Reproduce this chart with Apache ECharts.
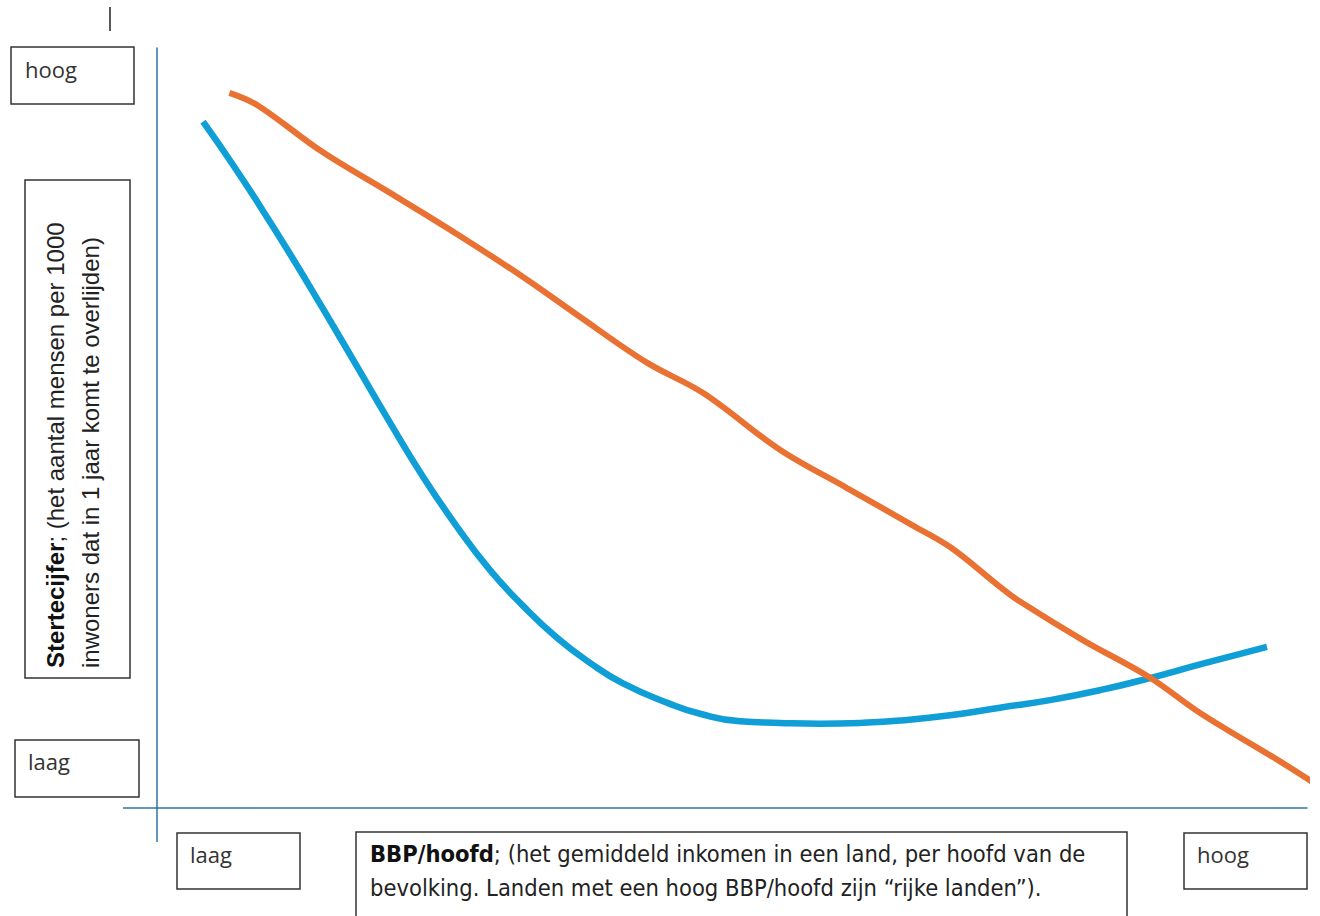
<!DOCTYPE html>
<html>
<head>
<meta charset="utf-8">
<script src="https://cdn.jsdelivr.net/npm/echarts@6/dist/echarts.min.js"></script>
<style>
html,body{margin:0;padding:0;background:#fff;}
#c{width:1320px;height:916px;}
</style>
</head>
<body>
<div id="c"></div>
<script>
// Schematic data (x: BBP/hoofd 0-100, y: sterftecijfer 0-100)
const blueX = [4.0, 6.35, 8.7, 11.57, 14.43, 17.39, 20.26, 23.13, 26.09, 28.96, 31.83, 34.78, 37.65, 40.52, 44.61, 47.22, 50.7, 54.17, 57.65, 61.13, 64.6, 68.96, 73.3, 77.65, 82.0, 86.35, 90.7, 96.52];
const blueY = [90.3, 85.2, 79.8, 72.9, 65.7, 58.1, 50.7, 43.6, 37.0, 31.3, 26.6, 22.4, 19.1, 16.4, 13.7, 12.4, 11.4, 11.2, 11.1, 11.2, 11.5, 12.2, 13.2, 14.2, 15.5, 17.1, 18.9, 21.2];
const orangeX = [6.3, 8.7, 14.4, 20.3, 26.1, 31.8, 36.8, 42.6, 47.5, 54.2, 60.0, 65.7, 69.0, 73.3, 74.8, 80.5, 86.3, 90.7, 97.9, 101.1];
const orangeY = [94.1, 92.5, 86.3, 80.9, 75.5, 69.9, 64.6, 58.6, 54.6, 47.1, 42.1, 37.2, 34.3, 29.1, 27.4, 22.1, 17.2, 12.5, 5.9, 2.8];

const yTitleBold = 'Stertecijfer';
const yTitleLine1 = '; (het aantal mensen per 1000';
const yTitleLine2 = 'inwoners dat in 1 jaar komt te overlijden)';
const xTitleBold = 'BBP/hoofd';
const xTitleLine1 = '; (het gemiddeld inkomen in een land, per hoofd van de';
const xTitleLine2 = 'bevolking. Landen met een hoog BBP/hoofd zijn \u201crijke landen\u201d).';
const lowLabel = 'laag';
const highLabel = 'hoog';

const pairs = (xs, ys) => xs.map((x, i) => [x, ys[i]]);
const axisColor = '#3474a0';
const boxStroke = '#333333';
const boxFont = '"Open Sans", sans-serif';
const yFont = '"Liberation Sans", Arial, sans-serif';
const xFont = '"Liberation Sans Narrow", "DejaVu Sans Condensed", sans-serif';

function box(x, y, w, h) {
  return {type:'rect', shape:{x:x, y:y, width:w, height:h}, style:{fill:'#ffffff', stroke:boxStroke, lineWidth:1.5}, z:10};
}
function label(x, y, text, size, family) {
  return {type:'text', x:x, y:y, z:11, style:{text:text, fontSize:size, fontFamily:family, fill:'#333333', textAlign:'left', textVerticalAlign:'middle', align:'left', verticalAlign:'middle'}};
}

const chart = echarts.init(document.getElementById('c'), null, {renderer:'svg'});
chart.setOption({
  animation:false,
  backgroundColor:'#ffffff',
  grid:{left:157, right:13, top:48, bottom:108, containLabel:false},
  xAxis:{type:'value', min:0, max:100, axisLine:{show:true, onZero:false, lineStyle:{color:axisColor, width:1.5}}, axisTick:{show:false}, axisLabel:{show:false}, splitLine:{show:false}},
  yAxis:{type:'value', min:0, max:100, axisLine:{show:true, onZero:false, lineStyle:{color:axisColor, width:1.5}}, axisTick:{show:false}, axisLabel:{show:false}, splitLine:{show:false}},
  series:[
    {name:'blauw', type:'line', data:pairs(blueX, blueY), smooth:0.5, showSymbol:false, clip:false, lineStyle:{color:'#0f9ed5', width:6.5, cap:'butt'}, z:3},
    {name:'oranje', type:'line', data:pairs(orangeX, orangeY), smooth:0.35, showSymbol:false, clip:false, lineStyle:{color:'#e97132', width:6, cap:'butt'}, z:4}
  ],
  graphic:[
    {type:'line', shape:{x1:123, y1:808, x2:157, y2:808}, style:{stroke:axisColor, lineWidth:1.5}},
    {type:'line', shape:{x1:157, y1:808, x2:157, y2:842}, style:{stroke:axisColor, lineWidth:1.5}},
    {type:'line', shape:{x1:110, y1:7, x2:110, y2:31}, style:{stroke:'#222', lineWidth:1.5}},
    box(11, 47, 123, 57), label(25, 69, highLabel, 22, boxFont),
    box(15, 740, 124, 57), label(28, 761, lowLabel, 22, boxFont),
    box(177, 833, 123, 56), label(190, 854, lowLabel, 22, boxFont),
    box(1184, 833, 123, 56), label(1197, 854, highLabel, 22, boxFont),
    box(25, 180, 105, 498),
    {type:'text', x:55, y:668, rotation:Math.PI/2, z:11, style:{text:'{b|' + yTitleBold + '}' + yTitleLine1, fontSize:24, fontFamily:yFont, fill:'#222', textAlign:'left', textVerticalAlign:'middle', align:'left', verticalAlign:'middle', rich:{b:{fontWeight:'bold', fontSize:24, fontFamily:yFont, fill:'#111'}}}},
    {type:'text', x:90, y:668, rotation:Math.PI/2, z:11, style:{text:yTitleLine2, fontSize:24, fontFamily:yFont, fill:'#222', textAlign:'left', textVerticalAlign:'middle', align:'left', verticalAlign:'middle'}},
    box(356, 832, 771, 92),
    {type:'text', x:370, y:854, z:11, style:{text:'{b|' + xTitleBold + '}' + xTitleLine1, fontSize:23.5, fontFamily:xFont, fill:'#222', textAlign:'left', textVerticalAlign:'middle', align:'left', verticalAlign:'middle', rich:{b:{fontWeight:'bold', fontSize:23.5, fontFamily:xFont, fill:'#111'}}}},
    {type:'text', x:370, y:888, z:11, style:{text:xTitleLine2, fontSize:23.5, fontFamily:xFont, fill:'#222', textAlign:'left', textVerticalAlign:'middle', align:'left', verticalAlign:'middle'}}
  ]
});
</script>
</body>
</html>
